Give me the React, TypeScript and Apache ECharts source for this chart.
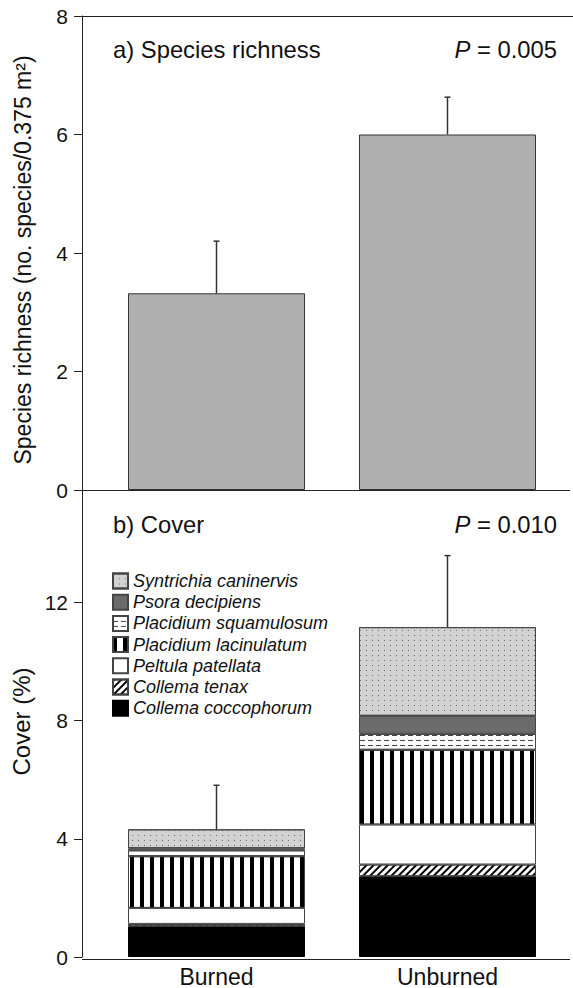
import React, { useEffect, useRef } from 'react';
import * as echarts from 'echarts';

// ---------- data ----------
const categories = ['Burned', 'Unburned'];
const richnessMean = [3.32, 6.0];
const richnessSE = [0.88, 0.63];
const richnessTicks = [0, 2, 4, 6, 8];
const coverTicks = [0, 4, 8, 12];
const coverAxisMax = 15.8;

const speciesNames = [
  'Collema coccophorum',
  'Collema tenax',
  'Peltula patellata',
  'Placidium lacinulatum',
  'Placidium squamulosum',
  'Psora decipiens',
  'Syntrichia caninervis',
];
const collemaCoccophorum = [1.04, 2.73];
const collemaTenax = [0.08, 0.4];
const peltulaPatellata = [0.54, 1.35];
const placidiumLacinulatum = [1.75, 2.53];
const placidiumSquamulosum = [0.2, 0.54];
const psoraDecipiens = [0.07, 0.61];
const syntrichiaCaninervis = [0.64, 3.0];
const coverSE = [1.49, 2.42];
const pValues = ['0.005', '0.010'];
const panelTitles = ['a) Species richness', 'b) Cover'];
const axisNames = ['Species richness (no. species/0.375 m²)', 'Cover (%)'];

const speciesValues = [
  collemaCoccophorum,
  collemaTenax,
  peltulaPatellata,
  placidiumLacinulatum,
  placidiumSquamulosum,
  psoraDecipiens,
  syntrichiaCaninervis,
];

// ---------- styles ----------
const FONT = '"Liberation Sans", Arial, Helvetica, sans-serif';
const TEXT = '#111';
const LINE = '#222';
const W = 573;
const H = 988;
const AXIS_X = 82;
const GRID_L = 101;
const GRID_R = 10;
const TOP1 = 16;
const H1 = 474;
const TOP2 = TOP1 + H1;
const H2 = 469;
const BAR_W = 177;
const TITLE_SIZE = 23.8;

const speciesStyles: any[] = [
  { color: '#000000', borderColor: '#000' },
  {
    color: '#ffffff',
    borderColor: '#444',
    decal: {
      symbol: 'rect',
      symbolSize: 1,
      symbolKeepAspect: false,
      color: '#000',
      dashArrayX: [2, 3],
      dashArrayY: [10, 0],
      rotation: Math.PI / 4,
    },
  },
  { color: '#ffffff', borderColor: '#444' },
  {
    color: '#ffffff',
    borderColor: '#444',
    decal: {
      symbol: 'rect',
      symbolSize: 1,
      symbolKeepAspect: false,
      color: '#000',
      dashArrayX: [4, 6],
      dashArrayY: [10, 0],
    },
  },
  {
    color: '#ffffff',
    borderColor: '#444',
    decal: {
      symbol: 'rect',
      symbolSize: 1,
      symbolKeepAspect: false,
      color: '#444',
      dashArrayX: [5, 3],
      dashArrayY: [1, 4],
    },
  },
  { color: '#6b6b6b', borderColor: '#444' },
  {
    color: '#d2d2d2',
    borderColor: '#444',
    decal: {
      symbol: 'rect',
      symbolSize: 1,
      symbolKeepAspect: false,
      color: '#6a6a6a',
      dashArrayX: [1, 5],
      dashArrayY: [1, 4],
    },
  },
];

function errorRenderItem(params: any, api: any) {
  const x = api.value(0);
  const top = api.value(1);
  const err = api.value(2);
  const p1 = api.coord([x, top]);
  const p2 = api.coord([x, err]);
  const st = { stroke: '#333', lineWidth: 1.5 };
  return {
    type: 'group',
    children: [
      { type: 'line', shape: { x1: p1[0], y1: p1[1], x2: p2[0], y2: p2[1] }, style: st },
      { type: 'line', shape: { x1: p2[0] - 3, y1: p2[1], x2: p2[0] + 3, y2: p2[1] }, style: st },
    ],
  };
}

function yAxisBase(gridIndex: number, padding: number[], nameSize: number) {
  return {
    type: 'value',
    gridIndex,
    offset: GRID_L - AXIS_X,
    axisLine: { show: true, lineStyle: { color: LINE, width: 1 } },
    axisTick: { show: true, inside: false, length: 8, lineStyle: { color: LINE, width: 1 } },
    axisLabel: { fontSize: 21, color: TEXT, margin: 14, fontFamily: FONT },
    splitLine: { show: false },
    nameLocation: 'middle',
    nameGap: 48,
    nameTextStyle: { fontSize: nameSize, color: TEXT, fontFamily: FONT, padding },
  };
}

function pText(x: number, y: number, value: string) {
  return {
    type: 'text',
    x,
    y,
    style: {
      text: '{i|P} = ' + value,
      fontSize: TITLE_SIZE,
      fontFamily: FONT,
      fill: TEXT,
      verticalAlign: 'middle',
      align: 'right',
      rich: { i: { fontStyle: 'italic', fontSize: TITLE_SIZE, fontFamily: FONT, fill: TEXT } },
    },
  };
}

function titleText(x: number, y: number, text: string) {
  return {
    type: 'text',
    x,
    y,
    style: { text, fontSize: TITLE_SIZE, fontFamily: FONT, fill: TEXT, verticalAlign: 'middle', align: 'left' },
  };
}

export default function App() {
  const ref = useRef<HTMLDivElement>(null);

  useEffect(() => {
    if (!ref.current) return;
    const chart = echarts.init(ref.current, undefined, { renderer: 'svg' });

    const coverTotals = categories.map((_, i) =>
      speciesValues.reduce((s, arr) => s + arr[i], 0)
    );

    const coverSeries = speciesNames.map((name, k) => ({
      name,
      type: 'bar',
      xAxisIndex: 1,
      yAxisIndex: 1,
      stack: 'cover',
      barWidth: BAR_W,
      data: speciesValues[k],
      itemStyle: { borderWidth: 1, ...speciesStyles[k] },
      emphasis: { disabled: true },
    }));

    const option: any = {
      animation: false,
      backgroundColor: '#ffffff',
      grid: [
        { left: GRID_L, right: GRID_R, top: TOP1, height: H1 },
        { left: GRID_L, right: GRID_R, top: TOP2, height: H2 },
      ],
      xAxis: [
        {
          type: 'category',
          gridIndex: 0,
          data: categories,
          axisLine: { show: false },
          axisTick: { show: false },
          axisLabel: { show: false },
        },
        {
          type: 'category',
          gridIndex: 1,
          data: categories,
          axisLine: { show: false },
          axisTick: { show: false },
          axisLabel: { fontSize: 23, color: TEXT, margin: 8, fontFamily: FONT },
        },
      ],
      yAxis: [
        {
          ...yAxisBase(0, [0, 14, 0, 0], 23),
          min: richnessTicks[0],
          max: richnessTicks[richnessTicks.length - 1],
          interval: richnessTicks[1] - richnessTicks[0],
          name: axisNames[0],
        },
        {
          ...yAxisBase(1, [0, 0, 0, 4], 24),
          min: coverTicks[0],
          max: coverAxisMax,
          interval: coverTicks[1] - coverTicks[0],
          name: axisNames[1],
          axisLabel: {
            fontSize: 21,
            color: TEXT,
            margin: 14,
            fontFamily: FONT,
            showMaxLabel: false,
          },
        },
      ],
      legend: {
        orient: 'vertical',
        left: 107,
        top: 567,
        itemWidth: 15,
        itemHeight: 15,
        itemGap: 3.2,
        icon: 'rect',
        selectedMode: false,
        data: [...speciesNames].reverse(),
        textStyle: { fontSize: 18, fontStyle: 'italic', color: TEXT, fontFamily: FONT },
      },
      series: [
        {
          name: 'richness',
          type: 'bar',
          xAxisIndex: 0,
          yAxisIndex: 0,
          barWidth: BAR_W,
          data: richnessMean,
          itemStyle: { color: '#b0b0b0', borderColor: '#333', borderWidth: 1 },
          emphasis: { disabled: true },
        },
        {
          name: 'richnessErr',
          type: 'custom',
          xAxisIndex: 0,
          yAxisIndex: 0,
          z: 10,
          renderItem: errorRenderItem,
          encode: { x: 0, y: [1, 2] },
          data: categories.map((_, i) => [i, richnessMean[i], richnessMean[i] + richnessSE[i]]),
        },
        ...coverSeries,
        {
          name: 'coverErr',
          type: 'custom',
          xAxisIndex: 1,
          yAxisIndex: 1,
          z: 10,
          renderItem: errorRenderItem,
          encode: { x: 0, y: [1, 2] },
          data: categories.map((_, i) => [i, coverTotals[i], coverTotals[i] + coverSE[i]]),
        },
      ],
      graphic: [
        { type: 'line', shape: { x1: AXIS_X, y1: TOP1 + 0.5, x2: W, y2: TOP1 + 0.5 }, style: { stroke: LINE, lineWidth: 1 } },
        { type: 'line', shape: { x1: AXIS_X, y1: TOP2 + 0.5, x2: 570, y2: TOP2 + 0.5 }, style: { stroke: LINE, lineWidth: 1 } },
        { type: 'line', shape: { x1: AXIS_X, y1: TOP2 + H2 + 0.5, x2: 570, y2: TOP2 + H2 + 0.5 }, style: { stroke: LINE, lineWidth: 1 } },
        titleText(113, 49, panelTitles[0]),
        pText(557, 49, pValues[0]),
        titleText(113, 524, panelTitles[1]),
        pText(557, 524, pValues[1]),
      ],
    };

    chart.setOption(option);
    return () => chart.dispose();
  }, []);

  return (
    <div
      ref={ref}
      style={{ position: 'absolute', left: 0, top: 0, width: W, height: H, background: '#fff' }}
    />
  );
}
